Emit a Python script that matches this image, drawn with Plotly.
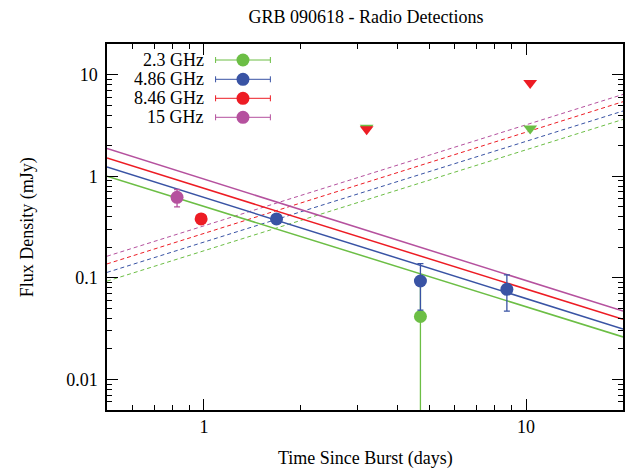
import plotly.graph_objects as go

# ---------------- data ----------------
freq_labels = ["2.3 GHz", "4.86 GHz", "8.46 GHz", "15 GHz"]
colors = ["#6cbe45", "#3953a4", "#ed1c24", "#b5519e"]

# model lines, evaluated at the plot edges (days)
line_t = [0.5, 20]
solid_23 = [1.00, 0.0262]
solid_486 = [1.23, 0.0314]
solid_846 = [1.51, 0.039]
solid_15 = [1.87, 0.047]
dashed_23 = [0.0927, 3.62]
dashed_486 = [0.113, 4.38]
dashed_846 = [0.137, 5.41]
dashed_15 = [0.163, 6.38]

# detections
det_23_t = [4.7]
det_23_f = [0.0416]
det_23_ep = [0.045]
det_23_em = [0.0415]

det_486_t = [1.68, 4.7, 8.72]
det_486_f = [0.38, 0.093, 0.077]
det_486_e = [0.0, 0.045, 0.030]

det_846_t = [0.98]
det_846_f = [0.38]
det_846_e = [0.0]

det_15_t = [0.825]
det_15_f = [0.62]
det_15_e = [0.12]

# upper limits
ul_23_t = [3.2, 10.3]
ul_23_f = [3.0, 2.94]
ul_846_t = [3.2, 10.3]
ul_846_f = [2.9, 8.25]

x_major = [1, 10]
x_major_text = ["1", "10"]
x_minor = [0.6, 0.7, 0.8, 0.9, 2, 3, 4, 5, 6, 7, 8, 9, 20]
y_major = [0.01, 0.1, 1, 10]
y_major_text = ["0.01", "0.1", "1", "10"]
y_minor = [0.006, 0.007, 0.008, 0.009,
           0.02, 0.03, 0.04, 0.05, 0.06, 0.07, 0.08, 0.09,
           0.2, 0.3, 0.4, 0.5, 0.6, 0.7, 0.8, 0.9,
           2, 3, 4, 5, 6, 7, 8, 9, 20]

FONT = "Liberation Serif"
fig = go.Figure()

solids = [solid_23, solid_486, solid_846, solid_15]
dashes = [dashed_23, dashed_486, dashed_846, dashed_15]
for i in range(4):
    fig.add_trace(go.Scatter(x=line_t, y=dashes[i], mode="lines",
                             line=dict(color=colors[i], width=1, dash="4px,3px"),
                             showlegend=False, hoverinfo="skip"))
for i in range(4):
    fig.add_trace(go.Scatter(x=line_t, y=solids[i], mode="lines",
                             line=dict(color=colors[i], width=1.5),
                             showlegend=False, hoverinfo="skip"))

MS = 13
def det(t, f, ep, em, c):
    fig.add_trace(go.Scatter(
        x=t, y=f, mode="markers",
        marker=dict(color=c, size=MS, line=dict(width=0)),
        error_y=dict(type="data", array=ep, arrayminus=em, symmetric=False,
                     color=c, thickness=1.3, width=3),
        showlegend=False))

det(det_23_t, det_23_f, det_23_ep, det_23_em, colors[0])
det(det_846_t, det_846_f, det_846_e, det_846_e, colors[2])
det(det_15_t, det_15_f, det_15_e, det_15_e, colors[3])
det(det_486_t, det_486_f, det_486_e, det_486_e, colors[1])

fig.add_trace(go.Scatter(x=ul_23_t, y=ul_23_f, mode="markers",
                         marker=dict(symbol="triangle-down", color=colors[0], size=12, line=dict(width=0)),
                         showlegend=False))
fig.add_trace(go.Scatter(x=ul_846_t, y=ul_846_f, mode="markers",
                         marker=dict(symbol="triangle-down", color=colors[2], size=12, line=dict(width=0)),
                         showlegend=False))

# ---------- custom legend (text left, symbol right) on pixel overlay axes ----------
leg_y = [60, 79.3, 98.3, 117.3]
for i in range(4):
    fig.add_trace(go.Scatter(
        x=[243.5], y=[leg_y[i]], xaxis="x2", yaxis="y2", mode="markers",
        marker=dict(color=colors[i], size=MS, line=dict(width=0)),
        error_x=dict(type="constant", value=27.5, color=colors[i], thickness=1, width=3),
        showlegend=False, hoverinfo="skip"))
    fig.add_annotation(x=206, y=leg_y[i], xref="x2", yref="y2", text=freq_labels[i],
                       showarrow=False, xanchor="right", yanchor="middle",
                       font=dict(family=FONT, size=18, color="black"))

axis_common = dict(
    type="log", showgrid=False, zeroline=False,
    showline=True, linecolor="black", linewidth=1.5, mirror="ticks",
    ticks="inside", ticklen=11, tickwidth=1.2, tickcolor="black",
    tickfont=dict(family=FONT, size=18, color="black"),
)
fig.update_layout(
    width=631, height=468,
    margin=dict(l=107, r=6, t=44, b=58),
    paper_bgcolor="white", plot_bgcolor="white",
    font=dict(family=FONT, size=18, color="black"),
    title=dict(text="GRB 090618 - Radio Detections", x=366/631, xanchor="center",
               y=1 - 17/468, yanchor="middle", yref="container",
               font=dict(family=FONT, size=18, color="black")),
    xaxis=dict(axis_common, range=[-0.30103, 1.30103], tickmode="array",
               tickvals=x_major, ticktext=x_major_text,
               minor=dict(tickmode="array", tickvals=x_minor, ticks="inside",
                          ticklen=5.5, tickwidth=1.2, tickcolor="black")),
    yaxis=dict(axis_common, range=[-2.30103, 1.30103], tickmode="array",
               tickvals=y_major, ticktext=y_major_text, ticklabelstandoff=4,
               minor=dict(tickmode="array", tickvals=y_minor, ticks="inside",
                          ticklen=5.5, tickwidth=1.2, tickcolor="black")),
    xaxis2=dict(overlaying="x", range=[107, 625], visible=False, fixedrange=True),
    yaxis2=dict(overlaying="y", range=[410, 44], visible=False, fixedrange=True),
    showlegend=False,
)
fig.add_annotation(text="Time Since Burst (days)", xref="paper", yref="paper",
                   x=0.5, y=-(458 - 410) / 366, xanchor="center", yanchor="middle",
                   showarrow=False, font=dict(family=FONT, size=18, color="black"))
fig.add_annotation(text="Flux Density (mJy)", xref="paper", yref="paper",
                   x=-(107 - 27) / 518, y=0.5, xanchor="center", yanchor="middle",
                   textangle=-90, showarrow=False, font=dict(family=FONT, size=18, color="black"))

fig.write_html("out.html")
